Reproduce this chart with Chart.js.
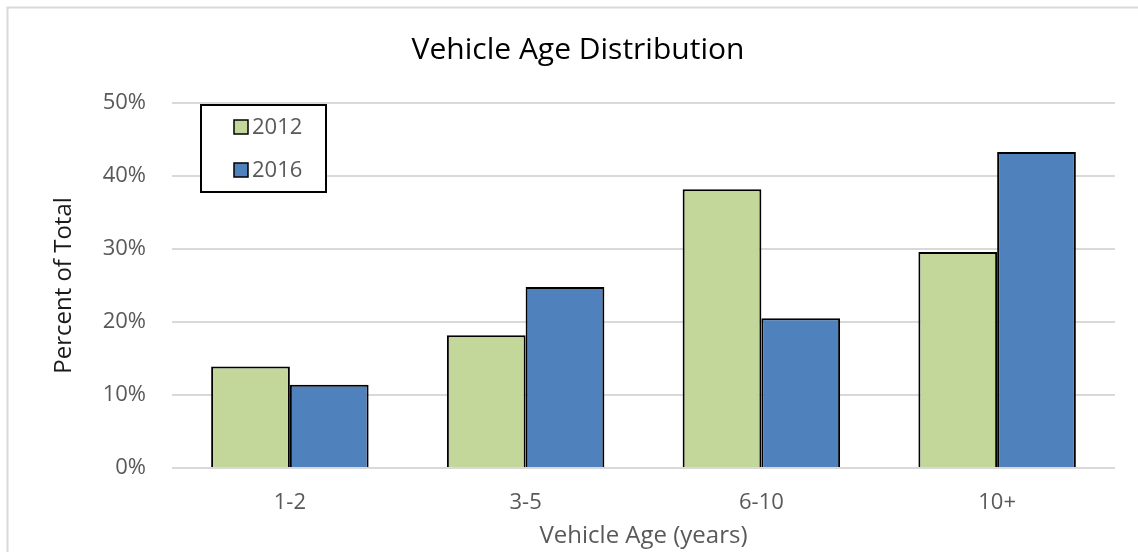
<!DOCTYPE html>
<html>
<head>
<meta charset="utf-8">
<script src="https://cdn.jsdelivr.net/npm/chart.js@4"></script>
<style>
  html, body { margin: 0; padding: 0; background: #fff; }
  #wrap { width: 1138px; height: 552px; }
</style>
</head>
<body>
<div id="wrap"><canvas id="myChart" width="1138" height="552"></canvas></div>
<script>
const categories = ['1-2', '3-5', '6-10', '10+'];
const seriesNames = ['2012', '2016'];
const values_2012 = [13.9, 18.2, 38.2, 29.6];
const values_2016 = [11.4, 24.8, 20.5, 43.3];
const yTicks = [0, 10, 20, 30, 40, 50];

const FONT = "'Open Sans', 'Noto Sans', sans-serif";

// frame lines (top + left only, picture is cropped)
const framePlugin = {
    id: 'frame',
    beforeDraw(chart) {
        const c = chart.ctx;
        c.save();
        c.fillStyle = '#fff';
        c.fillRect(0, 0, chart.width, chart.height);
        c.strokeStyle = '#d9d9d9';
        c.lineWidth = 2;
        c.beginPath();
        c.moveTo(7.5, chart.height);
        c.lineTo(7.5, 7.5);
        c.lineTo(chart.width, 7.5);
        c.stroke();
        c.restore();
    }
};

// boxed legend inside the plot area
const boxLegend = {
    id: 'boxLegend',
    afterDraw(chart) {
        const c = chart.ctx;
        const a = chart.chartArea;
        const x = a.left + 29, y = a.top + 2, w = 125, h = 87;
        c.save();
        c.fillStyle = '#fff';
        c.fillRect(x, y, w, h);
        c.strokeStyle = '#000';
        c.lineWidth = 2;
        c.strokeRect(x, y, w, h);
        chart.data.datasets.forEach((ds, i) => {
            const cy = y + 22 + i * 43;
            c.fillStyle = ds.backgroundColor;
            c.fillRect(x + 33, cy - 7, 14, 14);
            c.strokeStyle = '#000';
            c.lineWidth = 1.5;
            c.strokeRect(x + 33, cy - 7, 14, 14);
            c.fillStyle = '#595959';
            c.font = '22px ' + FONT;
            c.textBaseline = 'middle';
            c.fillText(ds.label, x + 51, cy + 1);
        });
        c.restore();
    }
};

const data = {
    labels: categories,
    datasets: [
        {
            label: seriesNames[0],
            data: values_2012,
            backgroundColor: '#c4d79b',
            borderColor: '#000',
            borderWidth: 2,
            categoryPercentage: 0.668,
            barPercentage: 1.0
        }, {
            label: seriesNames[1],
            data: values_2016,
            backgroundColor: '#4f81bd',
            borderColor: '#000',
            borderWidth: 2,
            categoryPercentage: 0.668,
            barPercentage: 1.0
        }
    ]
};

const config = {
    type: 'bar',
    data: data,
    options: {
        responsive: false,
        animation: false,
        layout: {
            padding: { left: 41, right: 23, top: 0, bottom: 0 }
        },
        plugins: {
            legend: { display: false },
            tooltip: { enabled: false },
            title: {
                display: true,
                text: 'Vehicle Age Distribution',
                color: '#000',
                font: { family: FONT, size: 30, weight: 'normal' },
                padding: { top: 32, bottom: 35 }
            }
        },
        scales: {
            x: {
                grid: { display: false, drawTicks: false },
                border: { display: false },
                ticks: {
                    color: '#595959',
                    font: { family: FONT, size: 22 },
                    padding: 22
                },
                title: {
                    display: true,
                    text: 'Vehicle Age (years)',
                    color: '#595959',
                    font: { family: FONT, size: 24 },
                    padding: { top: 0, bottom: 1 }
                },
                afterFit(scale) { scale.height = 84; }
            },
            y: {
                min: 0,
                max: 50,
                afterBuildTicks(scale) {
                    scale.ticks = yTicks.map(v => ({ value: v }));
                },
                grid: { color: '#d9d9d9', lineWidth: 2, drawTicks: false },
                border: { display: false },
                ticks: {
                    color: '#595959',
                    font: { family: FONT, size: 22 },
                    padding: 26,
                    callback: v => v + '%'
                },
                title: {
                    display: true,
                    text: 'Percent of Total',
                    color: '#1a1a1a',
                    font: { family: FONT, size: 24 },
                    padding: { top: 9, bottom: 0 }
                },
                afterFit(scale) { scale.width = 131; }
            }
        }
    },
    plugins: [framePlugin, boxLegend]
};

const ctx = document.getElementById('myChart').getContext('2d');
new Chart(ctx, config);
</script>
</body>
</html>
